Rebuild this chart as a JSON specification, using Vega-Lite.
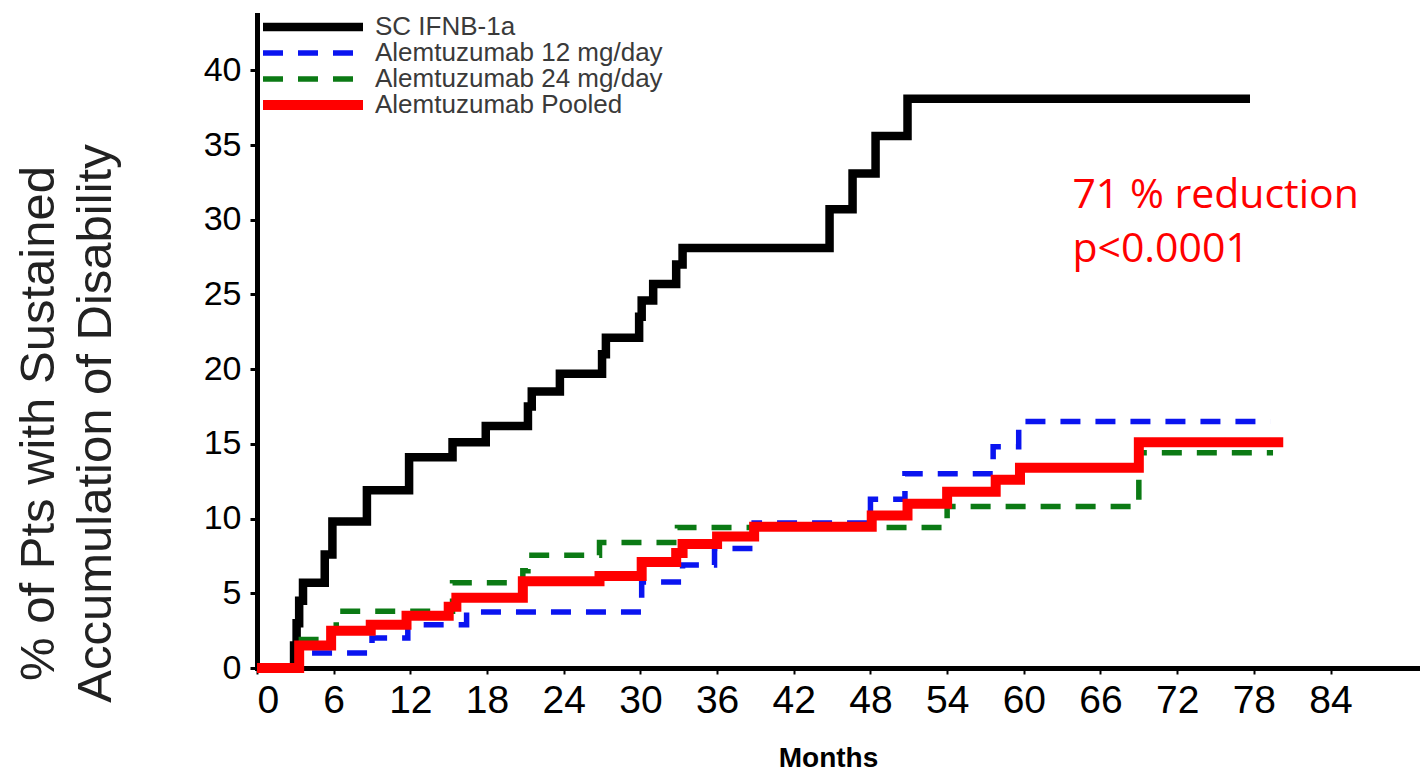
{
  "$schema": "https://vega.github.io/schema/vega-lite/v6.json",
  "width": 1163,
  "height": 653,
  "autosize": {"type": "none"},
  "padding": {"left": 257, "top": 15, "right": 0, "bottom": 106},
  "background": "white",
  "config": {
    "view": {"stroke": null},
    "axis": {"grid": false, "domainColor": "black", "tickColor": "black", "labelColor": "black"}
  },
  "datasets": {
    "curves": [
      {"s": "SC IFNB-1a", "m": 0, "v": 0},
      {"s": "SC IFNB-1a", "m": 2.9, "v": 1.5},
      {"s": "SC IFNB-1a", "m": 3.1, "v": 3.0},
      {"s": "SC IFNB-1a", "m": 3.3, "v": 4.5},
      {"s": "SC IFNB-1a", "m": 3.6, "v": 5.7},
      {"s": "SC IFNB-1a", "m": 5.3, "v": 7.6},
      {"s": "SC IFNB-1a", "m": 5.9, "v": 9.8},
      {"s": "SC IFNB-1a", "m": 8.6, "v": 11.9},
      {"s": "SC IFNB-1a", "m": 11.9, "v": 14.1},
      {"s": "SC IFNB-1a", "m": 15.3, "v": 15.1},
      {"s": "SC IFNB-1a", "m": 17.9, "v": 16.2},
      {"s": "SC IFNB-1a", "m": 21.2, "v": 17.5},
      {"s": "SC IFNB-1a", "m": 21.5, "v": 18.5},
      {"s": "SC IFNB-1a", "m": 23.7, "v": 19.7},
      {"s": "SC IFNB-1a", "m": 27.0, "v": 21.0},
      {"s": "SC IFNB-1a", "m": 27.3, "v": 22.1},
      {"s": "SC IFNB-1a", "m": 29.9, "v": 23.5},
      {"s": "SC IFNB-1a", "m": 30.1, "v": 24.6},
      {"s": "SC IFNB-1a", "m": 31.0, "v": 25.7},
      {"s": "SC IFNB-1a", "m": 32.8, "v": 27.0},
      {"s": "SC IFNB-1a", "m": 33.3, "v": 28.1},
      {"s": "SC IFNB-1a", "m": 44.8, "v": 30.7},
      {"s": "SC IFNB-1a", "m": 46.6, "v": 33.1},
      {"s": "SC IFNB-1a", "m": 48.4, "v": 35.6},
      {"s": "SC IFNB-1a", "m": 50.9, "v": 38.1},
      {"s": "SC IFNB-1a", "m": 77.7, "v": 38.1},
      {"s": "Alemtuzumab 12 mg/day", "m": 0, "v": 0},
      {"s": "Alemtuzumab 12 mg/day", "m": 3.3, "v": 1.0},
      {"s": "Alemtuzumab 12 mg/day", "m": 9.0, "v": 2.0},
      {"s": "Alemtuzumab 12 mg/day", "m": 11.8, "v": 2.9},
      {"s": "Alemtuzumab 12 mg/day", "m": 16.4, "v": 3.75},
      {"s": "Alemtuzumab 12 mg/day", "m": 30.1, "v": 5.75},
      {"s": "Alemtuzumab 12 mg/day", "m": 33.3, "v": 6.9},
      {"s": "Alemtuzumab 12 mg/day", "m": 35.8, "v": 8.0},
      {"s": "Alemtuzumab 12 mg/day", "m": 38.9, "v": 9.7},
      {"s": "Alemtuzumab 12 mg/day", "m": 48.0, "v": 11.3},
      {"s": "Alemtuzumab 12 mg/day", "m": 50.7, "v": 13.0},
      {"s": "Alemtuzumab 12 mg/day", "m": 57.6, "v": 14.8},
      {"s": "Alemtuzumab 12 mg/day", "m": 59.6, "v": 16.5},
      {"s": "Alemtuzumab 12 mg/day", "m": 79.3, "v": 16.5},
      {"s": "Alemtuzumab 24 mg/day", "m": 0, "v": 0},
      {"s": "Alemtuzumab 24 mg/day", "m": 3.2, "v": 1.9},
      {"s": "Alemtuzumab 24 mg/day", "m": 5.8, "v": 2.5},
      {"s": "Alemtuzumab 24 mg/day", "m": 6.2, "v": 3.8},
      {"s": "Alemtuzumab 24 mg/day", "m": 15.3, "v": 5.7},
      {"s": "Alemtuzumab 24 mg/day", "m": 20.8, "v": 6.5},
      {"s": "Alemtuzumab 24 mg/day", "m": 21.2, "v": 7.55},
      {"s": "Alemtuzumab 24 mg/day", "m": 26.8, "v": 8.4},
      {"s": "Alemtuzumab 24 mg/day", "m": 32.9, "v": 9.4},
      {"s": "Alemtuzumab 24 mg/day", "m": 54.0, "v": 10.8},
      {"s": "Alemtuzumab 24 mg/day", "m": 69.0, "v": 14.4},
      {"s": "Alemtuzumab 24 mg/day", "m": 79.5, "v": 14.4},
      {"s": "Alemtuzumab Pooled", "m": 0, "v": 0},
      {"s": "Alemtuzumab Pooled", "m": 3.3, "v": 1.5},
      {"s": "Alemtuzumab Pooled", "m": 5.8, "v": 2.5},
      {"s": "Alemtuzumab Pooled", "m": 8.9, "v": 2.9},
      {"s": "Alemtuzumab Pooled", "m": 11.7, "v": 3.5},
      {"s": "Alemtuzumab Pooled", "m": 15.0, "v": 4.1},
      {"s": "Alemtuzumab Pooled", "m": 15.6, "v": 4.7},
      {"s": "Alemtuzumab Pooled", "m": 20.8, "v": 5.8},
      {"s": "Alemtuzumab Pooled", "m": 26.8, "v": 6.15},
      {"s": "Alemtuzumab Pooled", "m": 30.1, "v": 7.1},
      {"s": "Alemtuzumab Pooled", "m": 32.8, "v": 7.7},
      {"s": "Alemtuzumab Pooled", "m": 33.3, "v": 8.3},
      {"s": "Alemtuzumab Pooled", "m": 36.0, "v": 8.8},
      {"s": "Alemtuzumab Pooled", "m": 38.9, "v": 9.45},
      {"s": "Alemtuzumab Pooled", "m": 48.1, "v": 10.2},
      {"s": "Alemtuzumab Pooled", "m": 50.9, "v": 11.0},
      {"s": "Alemtuzumab Pooled", "m": 54.0, "v": 11.8},
      {"s": "Alemtuzumab Pooled", "m": 57.8, "v": 12.6},
      {"s": "Alemtuzumab Pooled", "m": 59.7, "v": 13.4},
      {"s": "Alemtuzumab Pooled", "m": 69.0, "v": 15.1},
      {"s": "Alemtuzumab Pooled", "m": 80.3, "v": 15.1}
    ],
    "notes": [
      {"m": 63.8, "v": 30.8, "t": "71 % reduction"},
      {"m": 63.8, "v": 27.2, "t": "p<0.0001"}
    ]
  },
  "layer": [
    {
      "data": {"name": "curves"},
      "mark": {"type": "line", "interpolate": "step-after", "strokeCap": "butt", "strokeJoin": "miter"},
      "encoding": {
        "x": {
          "field": "m", "type": "quantitative",
          "scale": {"domain": [0, 91], "nice": false, "zero": false},
          "axis": {
            "values": [0, 6, 12, 18, 24, 30, 36, 42, 48, 54, 60, 66, 72, 78, 84],
            "domainWidth": 5, "domainCap": "square",
            "tickSize": 6, "tickWidth": 2,
            "labelFont": "Liberation Sans", "labelFontSize": 39, "labelPadding": 7,
            "title": "Months", "titleFont": "Liberation Sans", "titleFontWeight": "bold",
            "titleFontSize": 28, "titleColor": "black", "titleX": 571, "titleY": 98, "titleBaseline": "alphabetic"
          }
        },
        "y": {
          "field": "v", "type": "quantitative",
          "scale": {"domain": [0, 43.7], "nice": false},
          "axis": {
            "values": [0, 5, 10, 15, 20, 25, 30, 35, 40],
            "domainWidth": 5, "domainCap": "square",
            "tickSize": 7, "tickWidth": 3,
            "labelFont": "Liberation Sans", "labelFontSize": 34, "labelPadding": 9,
            "title": ["% of Pts with Sustained", "Accumulation of Disability"],
            "titleFont": "Liberation Sans", "titleFontWeight": "normal", "titleFontSize": 49,
            "titleColor": "#222222", "titleX": -243, "titleY": 408, "titleAngle": -90,
            "titleBaseline": "top", "titleAlign": "center", "titleLineHeight": 57
          }
        },
        "color": {
          "field": "s", "type": "nominal",
          "scale": {
            "domain": ["SC IFNB-1a", "Alemtuzumab 12 mg/day", "Alemtuzumab 24 mg/day", "Alemtuzumab Pooled"],
            "range": ["#000000", "#0a14f0", "#0b7a14", "#ff0000"]
          },
          "legend": {
            "title": null, "orient": "none", "legendX": 1, "legendY": -1,
            "symbolType": "stroke", "symbolSize": 10000, "clipHeight": 26, "rowPadding": 0,
            "labelFont": "Liberation Sans", "labelFontSize": 26, "labelColor": "#3a3a3a",
            "labelOffset": 7, "labelLimit": 800, "padding": 0
          }
        },
        "strokeDash": {
          "field": "s", "type": "nominal",
          "scale": {
            "domain": ["SC IFNB-1a", "Alemtuzumab 12 mg/day", "Alemtuzumab 24 mg/day", "Alemtuzumab Pooled"],
            "range": [[1, 0], [20, 15], [20, 15], [1, 0]]
          }
        },
        "strokeWidth": {
          "field": "s", "type": "nominal",
          "scale": {
            "type": "ordinal",
            "domain": ["SC IFNB-1a", "Alemtuzumab 12 mg/day", "Alemtuzumab 24 mg/day", "Alemtuzumab Pooled"],
            "range": [8.5, 5.5, 5.5, 10]
          }
        }
      }
    },
    {
      "data": {"name": "notes"},
      "mark": {"type": "text", "align": "left", "baseline": "alphabetic", "font": "Open Sans", "fontSize": 41, "color": "#ff0000"},
      "encoding": {
        "x": {"field": "m", "type": "quantitative"},
        "y": {"field": "v", "type": "quantitative"},
        "text": {"field": "t"}
      }
    }
  ]
}
